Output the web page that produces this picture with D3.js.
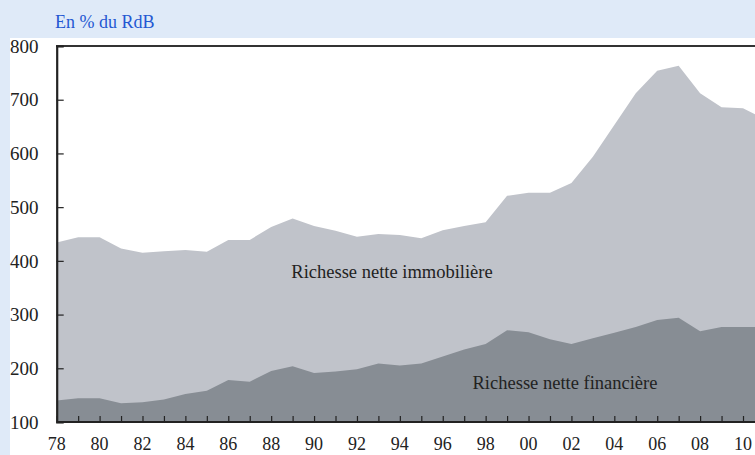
<!DOCTYPE html>
<html>
<head>
<meta charset="utf-8">
<script src="https://cdn.jsdelivr.net/npm/d3@7"></script>
<style>
  body { margin: 0; background: #dfeaf8; }
  svg { display: block; }
</style>
</head>
<body>
<script>
// years of the series
var years = [1978, 1979, 1980, 1981, 1982, 1983, 1984, 1985, 1986, 1987, 1988, 1989,
  1990, 1991, 1992, 1993, 1994, 1995, 1996, 1997, 1998, 1999, 2000, 2001, 2002,
  2003, 2004, 2005, 2006, 2007, 2008, 2009, 2010, 2011];

// richesse nette financiere (bottom area)
var financiere = [140, 144, 144, 135, 137, 142, 152, 158, 178, 175, 195, 204,
  191, 194, 198, 209, 205, 209, 222, 235, 245, 271, 267, 254, 245,
  256, 266, 277, 290, 294, 269, 277, 277, 277];

// richesse nette totale (top of the light area)
var totale = [434, 444, 444, 423, 415, 418, 420, 417, 439, 439, 463, 479,
  465, 456, 445, 450, 448, 442, 457, 465, 472, 521, 527, 527, 545,
  594, 653, 712, 754, 763, 712, 686, 684, 664];

var yTicks = [100, 200, 300, 400, 500, 600, 700, 800];
var xLabels = ["78", "80", "82", "84", "86", "88", "90", "92", "94", "96", "98",
  "00", "02", "04", "06", "08", "10"];

var width = 755,
  height = 455;
var serif = "Liberation Serif";

var svg = d3.select("body").append("svg")
  .attr("width", width)
  .attr("height", height);

// white panel
svg.append("rect")
  .attr("x", 10).attr("y", 38)
  .attr("width", width - 10).attr("height", height - 38)
  .attr("fill", "#ffffff");

// title
svg.append("text")
  .attr("x", 55).attr("y", 28)
  .attr("fill", "#2458d2")
  .attr("font-family", serif)
  .attr("font-size", 18)
  .text("En % du RdB");

var x = d3.scaleLinear()
  .domain([1978, 2010])
  .range([56.7, 743]);

var y = d3.scaleLinear()
  .domain([100, 800])
  .range([422, 46]);

var data = years.map(function(d, i) {
  return { year: d, fin: financiere[i], tot: totale[i] };
});

svg.append("clipPath").attr("id", "clip")
  .append("rect")
  .attr("x", 56).attr("y", 40)
  .attr("width", width - 56).attr("height", 382);

var plot = svg.append("g").attr("clip-path", "url(#clip)");

// light area: immobiliere
plot.append("path")
  .datum(data)
  .attr("fill", "#c0c3ca")
  .attr("d", d3.area()
    .x(function(d) { return x(d.year); })
    .y0(y(100))
    .y1(function(d) { return y(d.tot); }));

// dark area: financiere
plot.append("path")
  .datum(data)
  .attr("fill", "#878d94")
  .attr("d", d3.area()
    .x(function(d) { return x(d.year); })
    .y0(y(100))
    .y1(function(d) { return y(d.fin); }));

// area labels
svg.append("text")
  .attr("x", 392).attr("y", 278)
  .attr("text-anchor", "middle")
  .attr("fill", "#222")
  .attr("font-family", serif)
  .attr("font-size", 18.5)
  .text("Richesse nette immobilière");

svg.append("text")
  .attr("x", 565).attr("y", 389)
  .attr("text-anchor", "middle")
  .attr("fill", "#222")
  .attr("font-family", serif)
  .attr("font-size", 18.5)
  .text("Richesse nette financière");

// top border
svg.append("line")
  .attr("x1", 56).attr("x2", width)
  .attr("y1", y(800)).attr("y2", y(800))
  .attr("stroke", "#333").attr("stroke-width", 2);

// y axis
var yAxis = svg.append("g")
  .attr("transform", "translate(" + x(1978) + ",0)")
  .call(d3.axisRight(y).tickValues(yTicks).tickSize(7).tickFormat(""));
yAxis.select(".domain").attr("stroke", "#222").attr("stroke-width", 2.2);
yAxis.selectAll(".tick line").attr("stroke", "#222").attr("stroke-width", 1.2);

svg.selectAll(".ylab")
  .data(yTicks)
  .enter().append("text")
  .attr("class", "ylab")
  .attr("x", 10)
  .attr("y", function(d) { return y(d); })
  .attr("dy", "0.35em")
  .attr("fill", "#222")
  .attr("font-family", serif)
  .attr("font-size", 19)
  .text(function(d) { return d; });

// x axis with yearly ticks
var xAxis = svg.append("g")
  .attr("transform", "translate(0," + y(100) + ")")
  .call(d3.axisTop(x).tickValues(d3.range(1978, 2012)).tickSize(6).tickSizeOuter(0).tickFormat(""));
xAxis.select(".domain").attr("stroke", "#222").attr("stroke-width", 2.2)
  .attr("d", "M" + x(1978) + ",0H" + width);
xAxis.selectAll(".tick line").attr("stroke", "#222").attr("stroke-width", 1.2);

svg.selectAll(".xlab")
  .data(xLabels)
  .enter().append("text")
  .attr("class", "xlab")
  .attr("x", function(d, i) { return x(1978 + i * 2); })
  .attr("y", 450)
  .attr("text-anchor", "middle")
  .attr("fill", "#222")
  .attr("font-family", serif)
  .attr("font-size", 18)
  .text(function(d) { return d; });
</script>
</body>
</html>
